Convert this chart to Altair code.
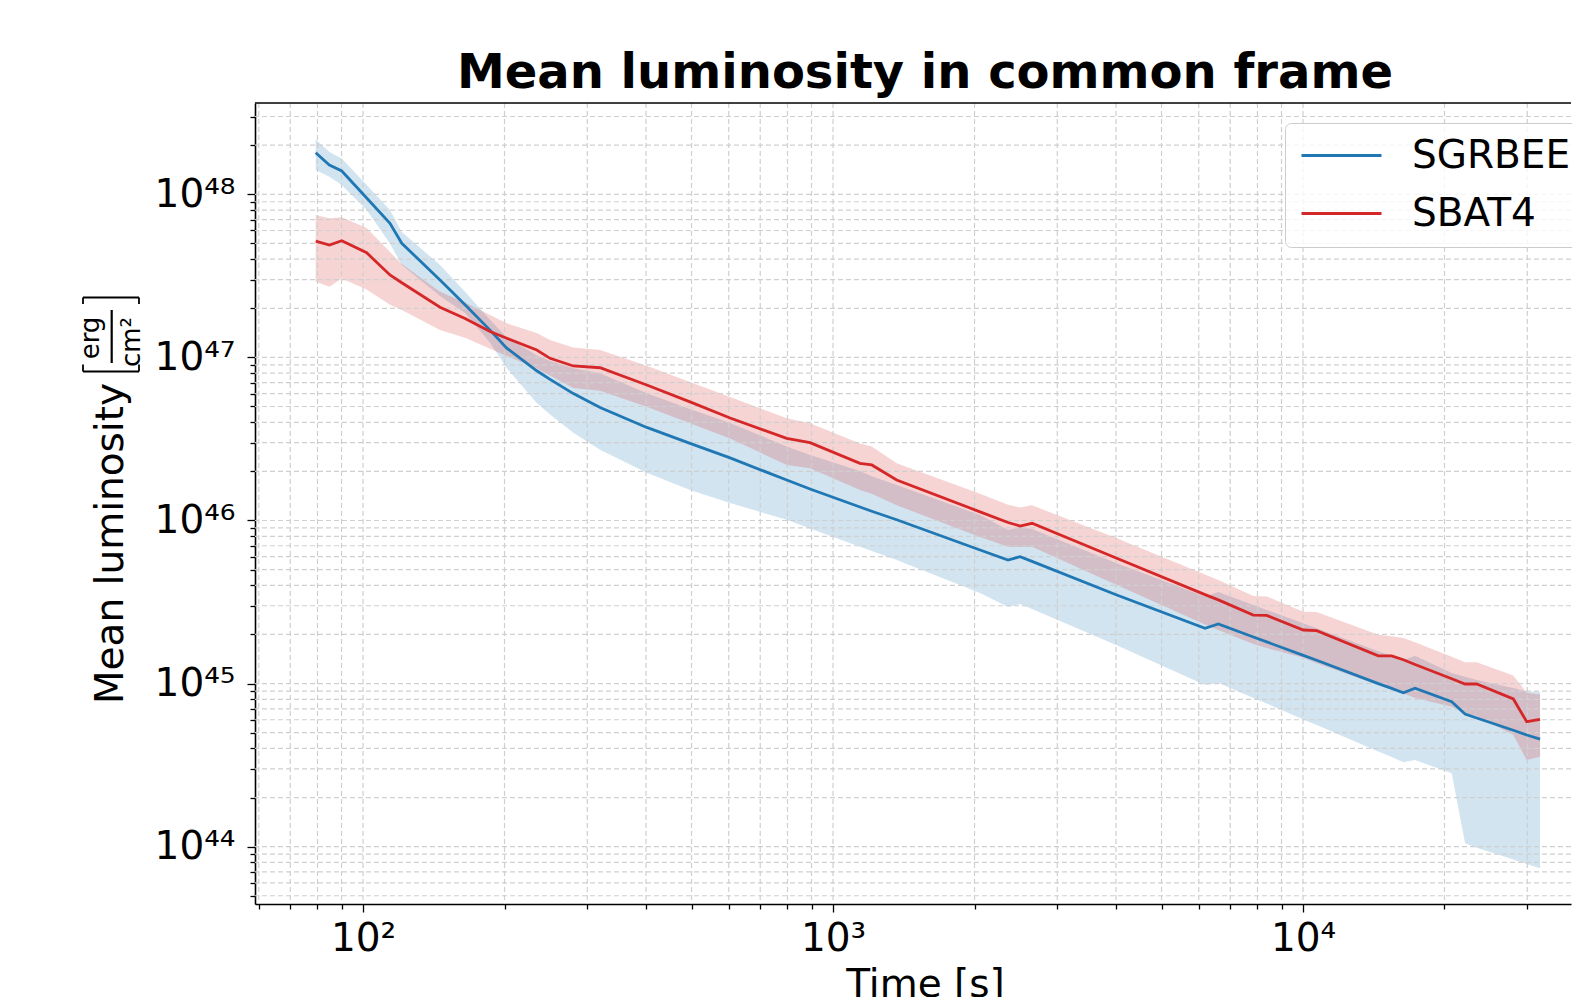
import altair as alt
import pandas as pd

# ---------------- data ----------------
SERIES = ["SGRBEE", "SBAT4"]
COLORS = ["#1f77b4", "#d62728"]

TIME = [79.3, 84.8, 90.1, 101.8, 114.1, 120.9,
        145.8, 164.8, 186.3, 202.2, 234.2, 250.0, 280.2, 319.4, 401.5, 496.3, 603.9, 797,
        893.4, 1141, 1209, 1366, 2055, 2357, 2500, 2651, 4015, 6187, 6604, 7839, 8372,
        10014, 10693, 14460, 15440, 16350, 17310, 20720, 22120, 23420, 28020, 29920, 31940]

SGRBEE_MEAN = [1.80e48, 1.51e48, 1.39e48, 9.49e47, 6.64e47, 5.01e47,
               2.98e47, 2.10e47, 1.47e47, 1.14e47, 8.28e46, 7.33e46, 6.00e46, 4.93e46, 3.72e46, 2.97e46, 2.42e46, 1.77e46,
               1.56e46, 1.21e46, 1.14e46, 1.01e46, 6.59e45, 5.72e45, 6.00e45, 5.61e45, 3.49e45, 2.18e45, 2.32e45, 1.93e45,
               1.80e45, 1.49e45, 1.39e45, 1.00e45, 9.35e44, 8.79e44, 9.36e44, 7.74e44, 6.51e44, 6.15e44, 5.17e44, 4.84e44,
               4.56e44]
SGRBEE_UPPER = [2.17e48, 1.82e48, 1.66e48, 1.14e48, 8.01e47, 5.87e47,
                3.69e47, 2.53e47, 1.70e47, 1.33e47, 1.03e47, 9.50e46, 8.58e46, 7.99e46, 6.02e46, 4.83e46, 3.96e46, 2.84e46,
                2.52e46, 2.01e46, 1.87e46, 1.65e46, 1.08e46, 8.74e45, 9.12e45, 8.87e45, 5.47e45, 3.42e45, 3.64e45, 3.03e45,
                2.83e45, 2.34e45, 2.18e45, 1.58e45, 1.48e45, 1.39e45, 1.48e45, 1.16e45, 1.10e45, 1.05e45, 9.40e44, 8.94e44,
                8.88e44]
SGRBEE_LOWER = [1.41e48, 1.28e48, 1.14e48, 8.01e47, 4.99e47, 3.69e47,
                2.38e47, 1.87e47, 1.23e47, 8.61e46, 5.25e46, 4.47e46, 3.45e46, 2.71e46, 1.96e46, 1.54e46, 1.28e46, 1.01e46,
                8.93e45, 6.91e45, 6.50e45, 5.72e45, 3.59e45, 2.95e45, 3.08e45, 2.87e45, 1.72e45, 9.80e44, 1.01e45, 8.16e44,
                7.55e44, 6.02e44, 5.57e44, 3.83e44, 3.55e44, 3.29e44, 3.40e44, 2.82e44, 1.05e44, 9.86e43, 8.35e43, 7.83e43,
                7.37e43]

SBAT4_MEAN = [5.17e47, 4.89e47, 5.19e47, 4.38e47, 3.20e47, 2.87e47,
              2.03e47, 1.73e47, 1.44e47, 1.31e47, 1.11e47, 9.87e46, 8.86e46, 8.64e46, 6.77e46, 5.34e46, 4.25e46, 3.19e46,
              3.00e46, 2.24e46, 2.19e46, 1.77e46, 1.13e46, 9.72e45, 9.25e45, 9.61e45, 5.87e45, 3.51e45, 3.26e45, 2.63e45,
              2.62e45, 2.13e45, 2.11e45, 1.48e45, 1.48e45, 1.40e45, 1.31e45, 1.07e45, 9.94e44, 9.94e44, 8.05e44, 5.84e44,
              6.04e44]
SBAT4_UPPER = [7.47e47, 7.13e47, 7.23e47, 6.22e47, 4.43e47, 3.74e47,
               2.53e47, 2.17e47, 1.82e47, 1.62e47, 1.41e47, 1.28e47, 1.15e47, 1.11e47, 8.88e46, 7.07e46, 5.72e46, 4.23e46,
               3.94e46, 2.97e46, 2.84e46, 2.24e46, 1.46e46, 1.25e46, 1.20e46, 1.24e46, 7.78e45, 4.67e45, 4.32e45, 3.44e45,
               3.42e45, 2.76e45, 2.75e45, 1.99e45, 1.95e45, 1.90e45, 1.79e45, 1.46e45, 1.35e45, 1.35e45, 1.12e45, 8.79e44,
               8.58e44]
SBAT4_LOWER = [2.91e47, 2.71e47, 3.05e47, 2.61e47, 2.10e47, 1.95e47,
               1.47e47, 1.32e47, 1.13e47, 1.02e47, 8.54e46, 7.74e46, 6.49e46, 6.25e46, 4.99e46, 3.95e46, 3.18e46, 2.19e46,
               2.09e46, 1.54e46, 1.46e46, 1.24e46, 7.92e45, 6.91e45, 6.88e45, 6.91e45, 4.02e45, 2.30e45, 2.13e45, 1.75e45,
               1.65e45, 1.44e45, 1.33e45, 9.80e44, 9.20e44, 8.72e44, 8.16e44, 7.22e44, 6.58e44, 6.33e44, 4.84e44, 3.40e44,
               3.56e44]

X_MAJOR = [1e2, 1e3, 1e4]
X_MAJOR_LABELS = ["10²", "10³", "10⁴"]
X_TICKS = [60, 70, 80, 90, 100, 200, 300, 400, 500, 600, 700, 800, 900,
           1000, 2000, 3000, 4000, 5000, 6000, 7000, 8000, 9000, 10000, 20000, 30000]
Y_MAJOR = [1e44, 1e45, 1e46, 1e47, 1e48]
Y_MAJOR_LABELS = ["10⁴⁴", "10⁴⁵", "10⁴⁶", "10⁴⁷", "10⁴⁸"]
Y_TICKS = [5e43, 6e43, 7e43, 8e43, 9e43,
           1e44, 2e44, 3e44, 4e44, 5e44, 6e44, 7e44, 8e44, 9e44,
           1e45, 2e45, 3e45, 4e45, 5e45, 6e45, 7e45, 8e45, 9e45,
           1e46, 2e46, 3e46, 4e46, 5e46, 6e46, 7e46, 8e46, 9e46,
           1e47, 2e47, 3e47, 4e47, 5e47, 6e47, 7e47, 8e47, 9e47,
           1e48, 2e48, 3e48]

X_DOMAIN = [58.9, 37170]
Y_DOMAIN = [4.45e43, 3.63e48]

# ---------------- layout ----------------
W, H = 1316, 801
FONT = "DejaVu Sans"
FS = 39

rows = []
for name, m, lo, up in [("SGRBEE", SGRBEE_MEAN, SGRBEE_LOWER, SGRBEE_UPPER),
                        ("SBAT4", SBAT4_MEAN, SBAT4_LOWER, SBAT4_UPPER)]:
    for t, a, b, c in zip(TIME, m, lo, up):
        rows.append({"time": t, "series": name, "mean": a, "lower": b, "upper": c})
df = pd.DataFrame(rows)


def label_expr(values, labels):
    expr = "''"
    for v, l in zip(values, labels):
        expr = f"abs(datum.value/{v:g} - 1) < 1e-6 ? '{l}' : ({expr})"
    return expr


major_test = "abs(log(datum.value)/LN10 - round(log(datum.value)/LN10)) < 0.001"

xscale = alt.Scale(type="log", domain=X_DOMAIN, nice=False)
yscale = alt.Scale(type="log", domain=Y_DOMAIN, nice=False)

x_axis = alt.Axis(values=X_TICKS, labelExpr=label_expr(X_MAJOR, X_MAJOR_LABELS),
                  tickSize={"condition": {"test": major_test, "value": 8}, "value": 5},
                  labelFont=FONT, labelFontSize=FS, labelColor="black", labelPadding=7,
                  labelOverlap=False, labelFlush=False, grid=False,
                  title="Time [s]", titleFont=FONT, titleFontSize=FS, titleFontWeight="normal",
                  titleColor="black", titleX=670, titleY=92, titleAlign="center",
                  titleBaseline="alphabetic")
y_axis = alt.Axis(values=Y_TICKS, labelExpr=label_expr(Y_MAJOR, Y_MAJOR_LABELS),
                  tickSize={"condition": {"test": major_test, "value": 8}, "value": 5},
                  labelFont=FONT, labelFontSize=FS, labelColor="black", labelPadding=12,
                  labelOverlap=False, labelFlush=False, grid=False,
                  title="Mean luminosity", titleFont=FONT, titleFontSize=FS, titleFontWeight="normal",
                  titleColor="black", titleAngle=270, titleX=-133, titleY=440, titleAlign="center",
                  titleBaseline="alphabetic")

base = alt.Chart(df)

bands = base.mark_area(opacity=0.2, clip=True).encode(
    x=alt.X("time:Q", scale=xscale, axis=x_axis),
    y=alt.Y("lower:Q", scale=yscale, axis=y_axis),
    y2="upper:Q",
    fill=alt.Fill("series:N", scale=alt.Scale(domain=SERIES, range=COLORS), legend=None),
)

grid_style = dict(color="#cfcfcf", strokeWidth=1.2, strokeDash=[5, 3])
grid_x = alt.Chart(pd.DataFrame({"gx": X_TICKS})).mark_rule(**grid_style).encode(
    x=alt.X("gx:Q", scale=xscale))
grid_y = alt.Chart(pd.DataFrame({"gy": Y_TICKS})).mark_rule(**grid_style).encode(
    y=alt.Y("gy:Q", scale=yscale))

lines = base.mark_line(strokeWidth=2.8, clip=True).encode(
    x=alt.X("time:Q", scale=xscale),
    y=alt.Y("mean:Q", scale=yscale),
    color=alt.Color("series:N", sort=SERIES,
                    scale=alt.Scale(domain=SERIES, range=COLORS),
                    legend=alt.Legend(title=None, orient="none", legendX=1030, legendY=20,
                                      labelFont=FONT, labelFontSize=FS, labelColor="black",
                                      symbolType="M-4,0H4", symbolSize=400, symbolStrokeWidth=3,
                                      symbolOffset=24, labelOffset=51, rowPadding=18, padding=13,
                                      strokeColor="#cccccc", fillColor="rgba(255,255,255,0.8)",
                                      cornerRadius=6)),
)

one = pd.DataFrame({"k": [0]})
top_border = alt.Chart(one).mark_rule(color="black", strokeWidth=1.6).encode(
    x=alt.value(0), x2=alt.value(W), y=alt.value(0))


def seg(x1, x2, y1, y2, w=1.8):
    return alt.Chart(one).mark_rule(color="black", strokeWidth=w).encode(
        x=alt.value(x1), x2=alt.value(x2), y=alt.value(y1), y2=alt.value(y2))


unit_parts = [
    alt.Chart(one).mark_text(text="erg", angle=270, font=FONT, fontSize=26, align="center",
                             baseline="alphabetic", color="black").encode(
        x=alt.value(-156), y=alt.value(235)),
    alt.Chart(one).mark_text(text="cm²", angle=270, font=FONT, fontSize=26, align="center",
                             baseline="alphabetic", color="black").encode(
        x=alt.value(-115), y=alt.value(239)),
    seg(-143.3, -143.3, 207, 260, 2.2),
    seg(-172, -116, 194.5, 194.5), seg(-172, -172, 194.5, 201), seg(-116, -116, 194.5, 201),
    seg(-172, -116, 268.5, 268.5), seg(-172, -172, 261.5, 268.5), seg(-116, -116, 261.5, 268.5),
]

chart = alt.layer(bands, grid_x, grid_y, lines, top_border, *unit_parts).resolve_scale(
    fill="independent", color="independent"
).properties(
    width=W, height=H,
    autosize=alt.AutoSizeParams(type="none"),
    padding={"left": 255, "top": 103, "right": 1, "bottom": 93},
    title=alt.TitleParams("Mean luminosity in common frame", font=FONT, fontSize=48,
                          fontWeight="bold", anchor="middle", dx=12, dy=53, offset=15,
                          baseline="alphabetic", color="black"),
).configure_view(stroke=None).configure_axis(
    domainColor="black", domainWidth=1.6, tickColor="black", tickWidth=1.3
)

chart.save("out.html", embed_options={"renderer": "svg", "actions": False})
